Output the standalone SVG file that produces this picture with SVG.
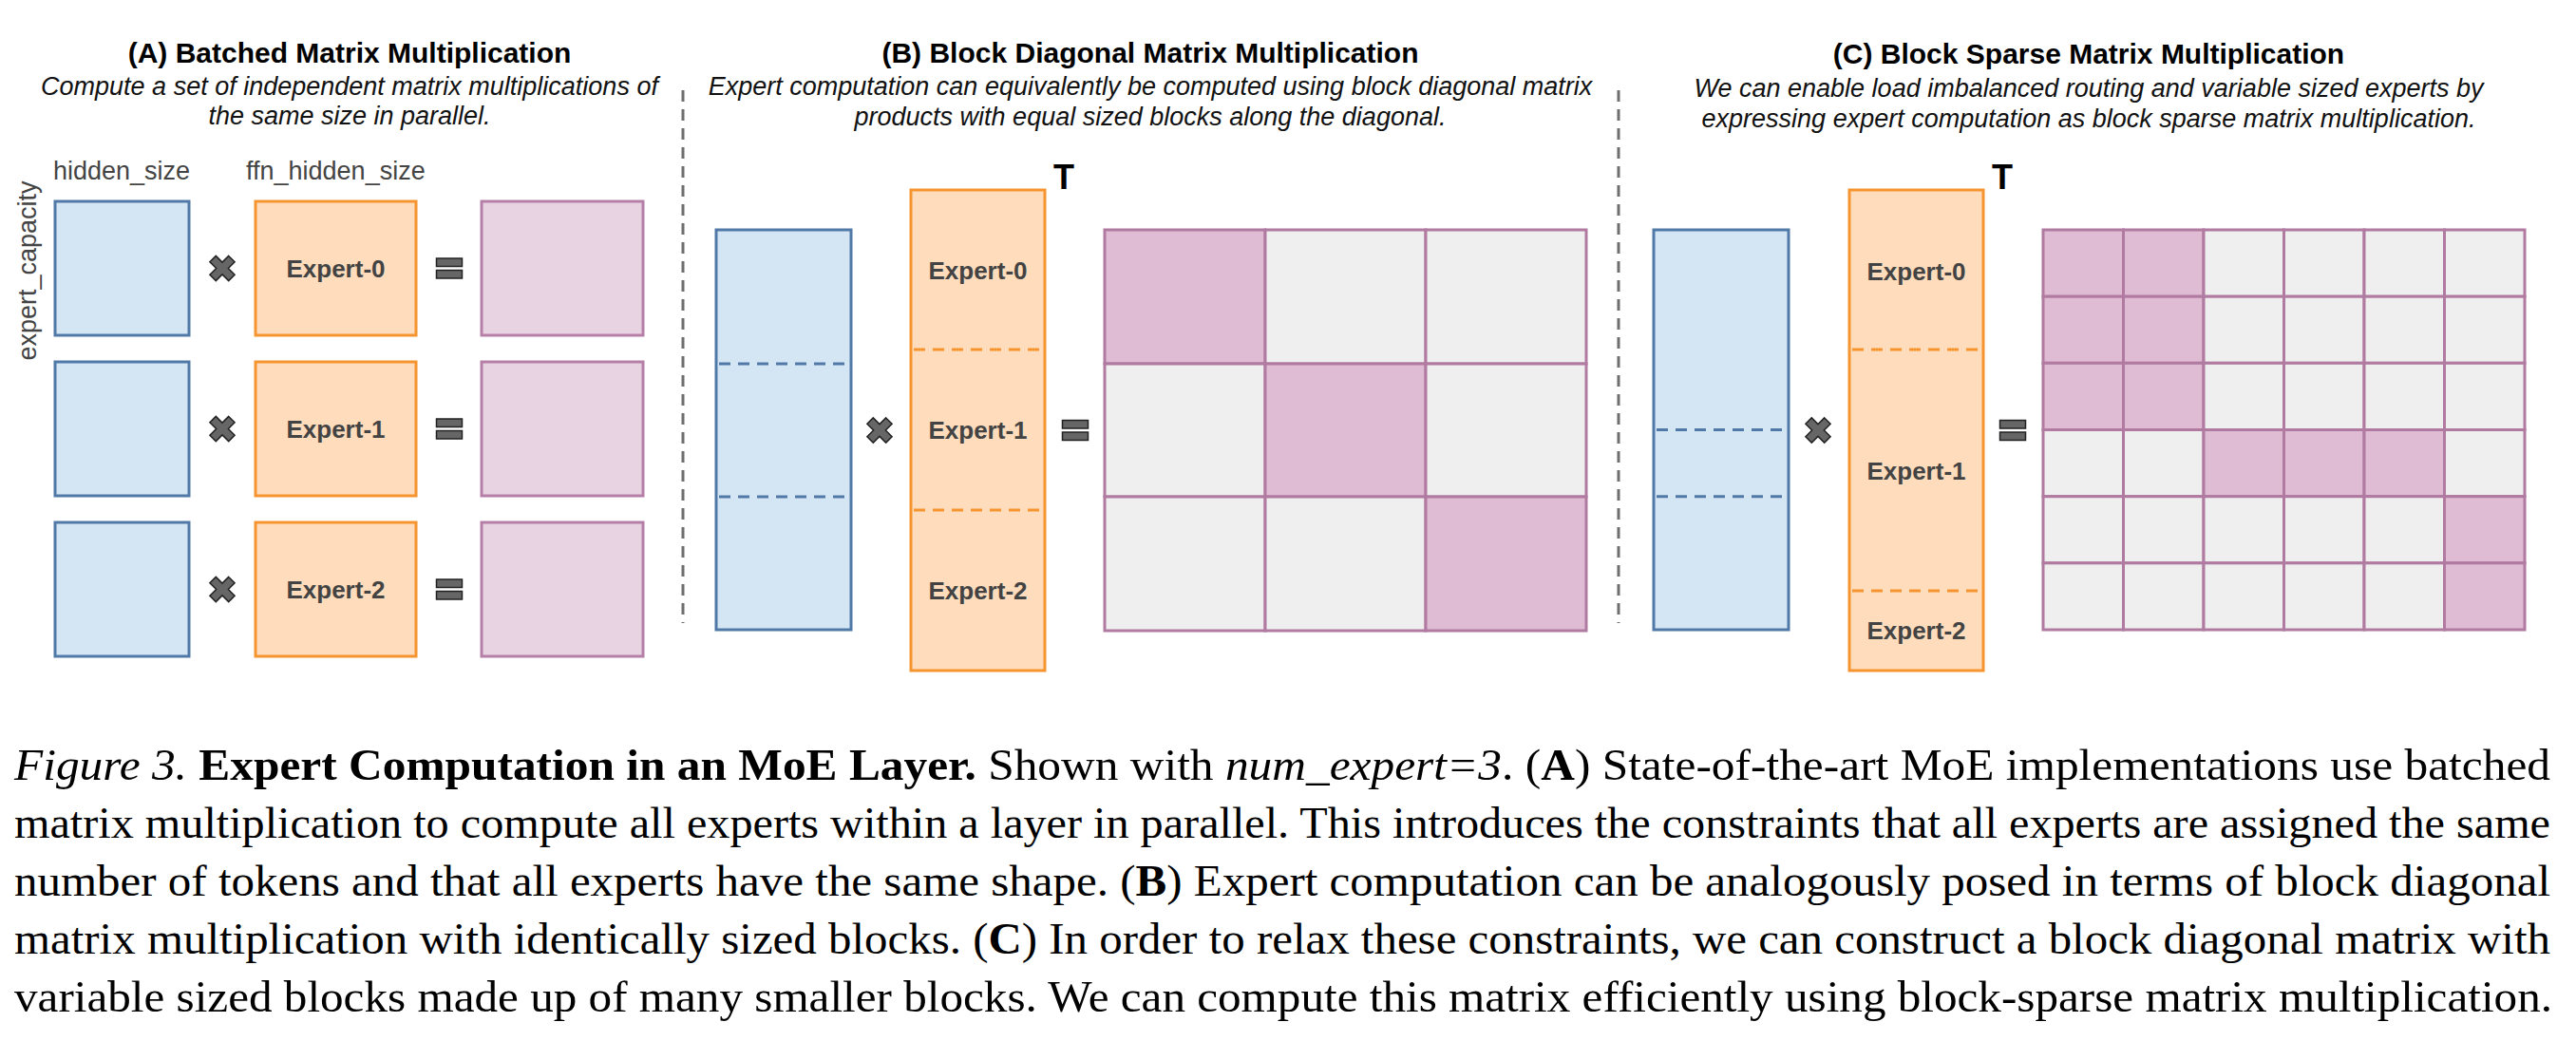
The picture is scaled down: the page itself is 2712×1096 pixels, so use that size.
<svg xmlns="http://www.w3.org/2000/svg" width="2712" height="1096" viewBox="0 0 2712 1096">
<style>
.blue{fill:#d4e6f4;stroke:#5079a8;stroke-width:3}
.orange{fill:#fedcbc;stroke:#f6952f;stroke-width:3}
.pinkA{fill:#e8d3e3;stroke:#b67fa8;stroke-width:3}
.cp{fill:#e0bcd4;stroke:#b07aa1;stroke-width:3}
.cg{fill:#efefef;stroke:#b07aa1;stroke-width:3}
.sep{stroke:#6e6e6e;stroke-width:3;stroke-dasharray:12 8;fill:none}
.bd{stroke:#5079a8;stroke-width:3;stroke-dasharray:12 8;fill:none}
.od{stroke:#f6952f;stroke-width:3;stroke-dasharray:12 8;fill:none}
.title{font-family:"Liberation Sans",Arial,sans-serif;font-weight:bold;font-size:30px;fill:#000;text-anchor:middle}
.sub{font-family:"Liberation Sans",Arial,sans-serif;font-style:italic;font-size:27px;fill:#111;text-anchor:middle}
.lbl{font-family:"Liberation Sans",Arial,sans-serif;font-size:27px;fill:#444}
.exp{font-family:"Liberation Sans",Arial,sans-serif;font-weight:bold;font-size:26px;fill:#434343;text-anchor:middle}
.T{font-family:"Liberation Sans",Arial,sans-serif;font-weight:bold;font-size:36px;fill:#000;text-anchor:middle}
.cap{font-family:"Liberation Serif","Times New Roman",serif;font-size:47px;fill:#000}
.op{fill:#666;stroke:#222;stroke-width:1.5}
</style>
<defs>
<path id="times" class="op" d="M-4.5,-14 L4.5,-14 L4.5,-4.5 L14,-4.5 L14,4.5 L4.5,4.5 L4.5,14 L-4.5,14 L-4.5,4.5 L-14,4.5 L-14,-4.5 L-4.5,-4.5 Z" transform="rotate(45)"/>
<g id="equals">
<rect class="op" x="-13.5" y="-10.5" width="27" height="8.5"/>
<rect class="op" x="-13.5" y="2" width="27" height="8.5"/>
</g>
</defs>

<g id="separators">
<line class="sep" x1="719" y1="95" x2="719" y2="656"/>
<line class="sep" x1="1704" y1="95" x2="1704" y2="656"/>
</g>

<!-- Panel A -->
<g id="panelA">
<g id="titleA">
<text class="title" x="368" y="66">(A) Batched Matrix Multiplication</text>
<text class="sub" x="368" y="100">Compute a set of independent matrix multiplications of</text>
<text class="sub" x="368" y="131">the same size in parallel.</text>
</g>
<text id="lbl-hidden" class="lbl" x="56" y="189">hidden_size</text>
<text id="lbl-ffn" class="lbl" x="259" y="189">ffn_hidden_size</text>
<text id="lbl-capacity" class="lbl" text-anchor="middle" transform="translate(38,285) rotate(-90)">expert_capacity</text>
<g id="A-in0"><rect class="blue" x="58" y="212" width="141" height="141"/></g>
<g id="A-in1"><rect class="blue" x="58" y="381" width="141" height="141"/></g>
<g id="A-in2"><rect class="blue" x="58" y="550" width="141" height="141"/></g>
<g id="A-exp0"><rect class="orange" x="269" y="212" width="169" height="141"/><text class="exp" x="353.5" y="292">Expert-0</text></g>
<g id="A-exp1"><rect class="orange" x="269" y="381" width="169" height="141"/><text class="exp" x="353.5" y="461">Expert-1</text></g>
<g id="A-exp2"><rect class="orange" x="269" y="550" width="169" height="141"/><text class="exp" x="353.5" y="630">Expert-2</text></g>
<g id="A-out0"><rect class="pinkA" x="507" y="212" width="170" height="141"/></g>
<g id="A-out1"><rect class="pinkA" x="507" y="381" width="170" height="141"/></g>
<g id="A-out2"><rect class="pinkA" x="507" y="550" width="170" height="141"/></g>
</g>

<!-- Panel B -->
<g id="panelB">
<g id="titleB">
<text class="title" x="1211" y="66">(B) Block Diagonal Matrix Multiplication</text>
<text class="sub" x="1211" y="100">Expert computation can equivalently be computed using block diagonal matrix</text>
<text class="sub" x="1211" y="132">products with equal sized blocks along the diagonal.</text>
</g>
<g id="B-in">
<rect class="blue" x="754" y="242" width="142" height="421"/>
<line class="bd" x1="757" y1="383" x2="894" y2="383"/>
<line class="bd" x1="757" y1="523" x2="894" y2="523"/>
</g>
<g id="B-experts">
<rect class="orange" x="959" y="200" width="141" height="506"/>
<line class="od" x1="962" y1="368" x2="1098" y2="368"/>
<line class="od" x1="962" y1="537" x2="1098" y2="537"/>
<text class="exp" x="1029.5" y="294">Expert-0</text>
<text class="exp" x="1029.5" y="462">Expert-1</text>
<text class="exp" x="1029.5" y="631">Expert-2</text>
<text class="T" x="1120" y="199">T</text>
</g>
<g id="B-out">
<rect class="cp" x="1163" y="242" width="169" height="141"/>
<rect class="cg" x="1332" y="242" width="169" height="141"/>
<rect class="cg" x="1501" y="242" width="169" height="141"/>
<rect class="cg" x="1163" y="383" width="169" height="140"/>
<rect class="cp" x="1332" y="383" width="169" height="140"/>
<rect class="cg" x="1501" y="383" width="169" height="140"/>
<rect class="cg" x="1163" y="523" width="169" height="141"/>
<rect class="cg" x="1332" y="523" width="169" height="141"/>
<rect class="cp" x="1501" y="523" width="169" height="141"/>
</g>
</g>

<!-- Panel C -->
<g id="panelC">
<g id="titleC">
<text class="title" x="2199" y="67">(C) Block Sparse Matrix Multiplication</text>
<text class="sub" x="2199" y="102">We can enable load imbalanced routing and variable sized experts by</text>
<text class="sub" x="2199" y="134">expressing expert computation as block sparse matrix multiplication.</text>
</g>
<g id="C-in">
<rect class="blue" x="1741" y="242" width="142" height="421"/>
<line class="bd" x1="1744" y1="452.5" x2="1881" y2="452.5"/>
<line class="bd" x1="1744" y1="522.7" x2="1881" y2="522.7"/>
</g>
<g id="C-experts">
<rect class="orange" x="1947" y="200" width="141" height="506"/>
<line class="od" x1="1950" y1="368" x2="2086" y2="368"/>
<line class="od" x1="1950" y1="622" x2="2086" y2="622"/>
<text class="exp" x="2017.5" y="295">Expert-0</text>
<text class="exp" x="2017.5" y="505">Expert-1</text>
<text class="exp" x="2017.5" y="673">Expert-2</text>
<text class="T" x="2108" y="199">T</text>
</g>
<g id="C-out">
<rect class="cp" x="2151" y="242" width="84.5" height="70.2"/>
<rect class="cp" x="2235.5" y="242" width="84.5" height="70.2"/>
<rect class="cg" x="2320" y="242" width="84.5" height="70.2"/>
<rect class="cg" x="2404.5" y="242" width="84.5" height="70.2"/>
<rect class="cg" x="2489" y="242" width="84.5" height="70.2"/>
<rect class="cg" x="2573.5" y="242" width="84.5" height="70.2"/>
<rect class="cp" x="2151" y="312.2" width="84.5" height="70.1"/>
<rect class="cp" x="2235.5" y="312.2" width="84.5" height="70.1"/>
<rect class="cg" x="2320" y="312.2" width="84.5" height="70.1"/>
<rect class="cg" x="2404.5" y="312.2" width="84.5" height="70.1"/>
<rect class="cg" x="2489" y="312.2" width="84.5" height="70.1"/>
<rect class="cg" x="2573.5" y="312.2" width="84.5" height="70.1"/>
<rect class="cp" x="2151" y="382.3" width="84.5" height="70.2"/>
<rect class="cp" x="2235.5" y="382.3" width="84.5" height="70.2"/>
<rect class="cg" x="2320" y="382.3" width="84.5" height="70.2"/>
<rect class="cg" x="2404.5" y="382.3" width="84.5" height="70.2"/>
<rect class="cg" x="2489" y="382.3" width="84.5" height="70.2"/>
<rect class="cg" x="2573.5" y="382.3" width="84.5" height="70.2"/>
<rect class="cg" x="2151" y="452.5" width="84.5" height="70.2"/>
<rect class="cg" x="2235.5" y="452.5" width="84.5" height="70.2"/>
<rect class="cp" x="2320" y="452.5" width="84.5" height="70.2"/>
<rect class="cp" x="2404.5" y="452.5" width="84.5" height="70.2"/>
<rect class="cp" x="2489" y="452.5" width="84.5" height="70.2"/>
<rect class="cg" x="2573.5" y="452.5" width="84.5" height="70.2"/>
<rect class="cg" x="2151" y="522.7" width="84.5" height="70.1"/>
<rect class="cg" x="2235.5" y="522.7" width="84.5" height="70.1"/>
<rect class="cg" x="2320" y="522.7" width="84.5" height="70.1"/>
<rect class="cg" x="2404.5" y="522.7" width="84.5" height="70.1"/>
<rect class="cg" x="2489" y="522.7" width="84.5" height="70.1"/>
<rect class="cp" x="2573.5" y="522.7" width="84.5" height="70.1"/>
<rect class="cg" x="2151" y="592.8" width="84.5" height="70.2"/>
<rect class="cg" x="2235.5" y="592.8" width="84.5" height="70.2"/>
<rect class="cg" x="2320" y="592.8" width="84.5" height="70.2"/>
<rect class="cg" x="2404.5" y="592.8" width="84.5" height="70.2"/>
<rect class="cg" x="2489" y="592.8" width="84.5" height="70.2"/>
<rect class="cp" x="2573.5" y="592.8" width="84.5" height="70.2"/>
</g>
</g>

<g id="operators">
<use href="#times" x="234" y="282.5"/>
<use href="#times" x="234" y="451.5"/>
<use href="#times" x="234" y="620.5"/>
<use href="#equals" x="473" y="282.5"/>
<use href="#equals" x="473" y="451.5"/>
<use href="#equals" x="473" y="620.5"/>
<use href="#times" x="926" y="453"/>
<use href="#equals" x="1132" y="453"/>
<use href="#times" x="1914" y="453"/>
<use href="#equals" x="2119" y="453"/>
</g>

<g id="caption">
<text class="cap" x="15" y="821" textLength="2670" lengthAdjust="spacingAndGlyphs"><tspan font-style="italic">Figure 3.</tspan> <tspan font-weight="bold">Expert Computation in an MoE Layer.</tspan> Shown with <tspan font-style="italic">num_expert=3</tspan>. (<tspan font-weight="bold">A</tspan>) State-of-the-art MoE implementations use batched</text>
<text class="cap" x="15" y="882" textLength="2670" lengthAdjust="spacingAndGlyphs">matrix multiplication to compute all experts within a layer in parallel. This introduces the constraints that all experts are assigned the same</text>
<text class="cap" x="15" y="943" textLength="2670" lengthAdjust="spacingAndGlyphs">number of tokens and that all experts have the same shape. (<tspan font-weight="bold">B</tspan>) Expert computation can be analogously posed in terms of block diagonal</text>
<text class="cap" x="15" y="1004" textLength="2670" lengthAdjust="spacingAndGlyphs">matrix multiplication with identically sized blocks. (<tspan font-weight="bold">C</tspan>) In order to relax these constraints, we can construct a block diagonal matrix with</text>
<text class="cap" x="15" y="1065" textLength="2672" lengthAdjust="spacingAndGlyphs">variable sized blocks made up of many smaller blocks. We can compute this matrix efficiently using block-sparse matrix multiplication.</text>
</g>
</svg>
